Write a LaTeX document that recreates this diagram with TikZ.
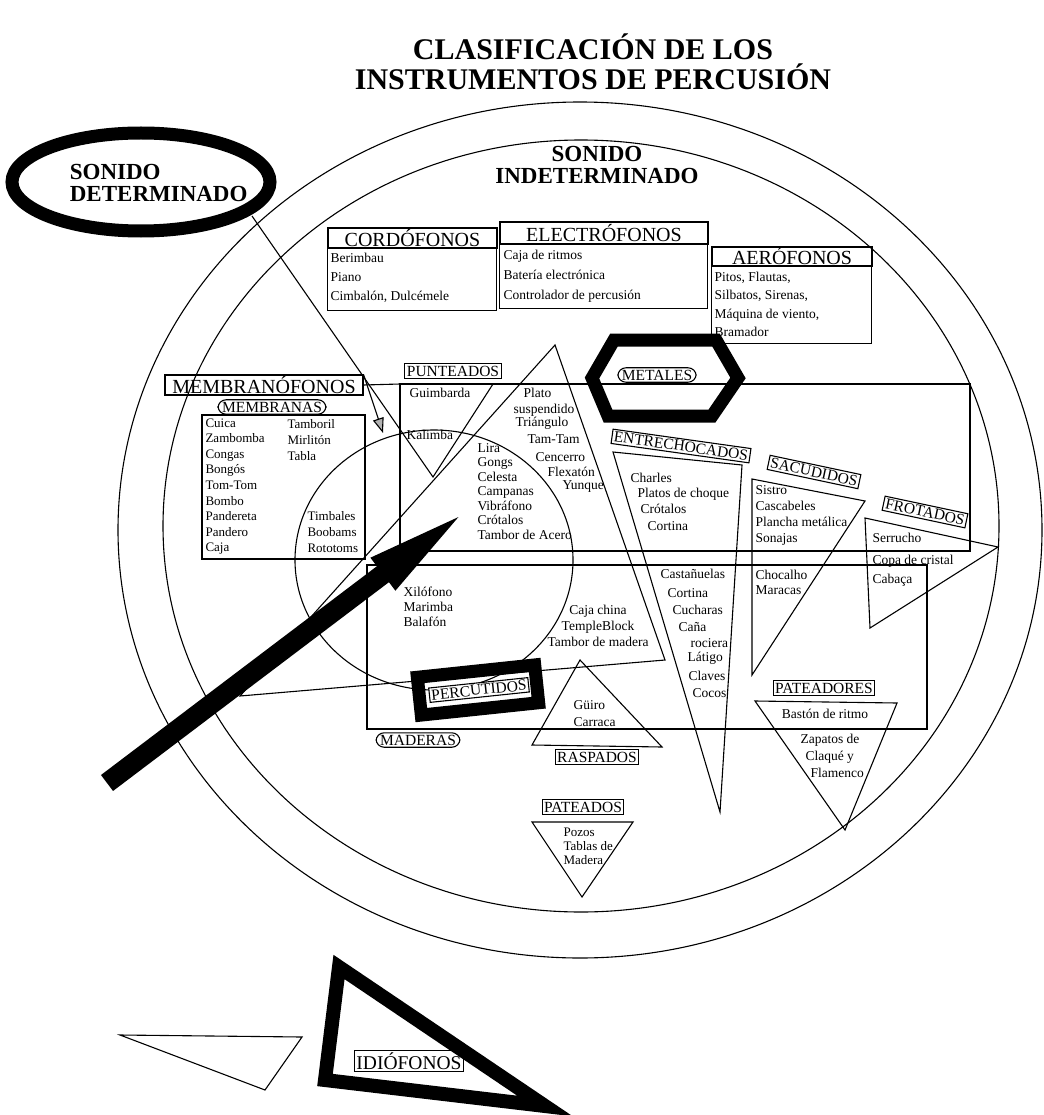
\documentclass[tikz,border=0pt]{standalone}
\usepackage{fontspec}
\setmainfont{Liberation Serif}
\usetikzlibrary{arrows.meta,positioning,shapes.geometric,calc}

\newcommand{\fsz}[2]{\fontsize{#1}{#2}\selectfont}

\tikzset{
  linea/.style={line width=1.1pt},
  grueso/.style={line width=13pt, line join=miter},
  lista/.style={font=\fsz{13.5}{19}, inner sep=0pt, align=left, anchor=west},
  cabecera/.style={draw, line width=1.1pt, font=\fsz{20}{22}, inner sep=0pt},
  etiqueta/.style={draw, line width=1.1pt, font=\fsz{15.5}{17}, inner sep=2pt},
  ovalo/.style={etiqueta, rounded corners=8pt, inner xsep=4pt},
  titulo/.style={font=\bfseries\fsz{30}{30}, align=center},
  sonido/.style={font=\bfseries\fsz{23}{22}, align=left},
}

\begin{document}
\begin{tikzpicture}[x=1pt, y=-1pt, linea]
\useasboundingbox (0,0) rectangle (1043,1115);
\clip (0,0) rectangle (1043,1115);
\fill[white] (0,0) rectangle (1043,1115);

% titulo
\node[titulo] (tit) at (593,62) {CLASIFICACIÓN DE LOS\\INSTRUMENTOS DE PERCUSIÓN};

% circulos grandes y circulo de percutidos
\draw (580,530) ellipse [x radius=462pt, y radius=428pt];
\draw (581,526) ellipse [x radius=418pt, y radius=386pt];
\draw (434,560) ellipse [x radius=139pt, y radius=130pt];

% sonido determinado / indeterminado
\node[sonido, anchor=west] (det) at (66,183) {SONIDO\\DETERMINADO};
\draw[grueso] (141,182) ellipse [x radius=129pt, y radius=49pt];
\node[sonido, align=center] (indet) at (597,165) {SONIDO\\INDETERMINADO};

% cordofonos, electrofonos, aerofonos
\node[cabecera, minimum width=169, minimum height=20] (cord) at (412.5,238) {CORDÓFONOS};
\draw (cord.south west) rectangle ++(169,62);
\node[lista] (cordl) at (330,278) {Berimbau\\Piano\\Cimbalón, Dulcémele};

\node[cabecera, minimum width=208, minimum height=22] (elec) at (604,233) {ELECTRÓFONOS};
\draw (elec.south west) rectangle ++(208,64);
\node[lista, font=\fsz{13.5}{20}] (elecl) at (503,276.5) {Caja de ritmos\\Batería electrónica\\Controlador de percusión};

\node[cabecera, minimum width=160, minimum height=19] (aero) at (792,256.5) {AERÓFONOS};
\draw (aero.south west) rectangle ++(160,77);
\node[lista, font=\fsz{13.5}{18.3}] (aerol) at (714,304.5) {Pitos, Flautas,\\Silbatos, Sirenas,\\Máquina de viento,\\Bramador};

% membranofonos
\node[cabecera, minimum width=198, minimum height=20] (memb) at (264,385) {MEMBRANÓFONOS};
\node[ovalo] (membr) at (272,407) {MEMBRANAS};
\draw (202,415) rectangle (365,559);
\node[lista, font=\fsz{13}{15.6}] (ml1) at (205,486.5) {Cuica\\Zambomba\\Congas\\Bongós\\Tom-Tom\\Bombo\\Pandereta\\Pandero\\Caja};
\node[lista, font=\fsz{13}{15.6}] (ml2) at (287,440) {Tamboril\\Mirlitón\\Tabla};
\node[lista, font=\fsz{13}{15.6}] (ml3) at (307,532) {Timbales\\Boobams\\Rototoms};
\coordinate (pct) at (383,433);
\draw[-{Triangle[length=15pt, width=11pt, fill=gray!60]}] (memb.north east) -- (pct);

% rectangulo de metales y de maderas
\coordinate (rA1) at (400,384);
\coordinate (rA2) at (970,551);
\draw (rA1) rectangle (rA2);
\draw (memb.east) -- (rA1);
\coordinate (rB1) at (367,565);
\coordinate (rB2) at (927,729);
\draw (rB1) rectangle (rB2);

% punteados
\node[etiqueta] (punt) at (453,371) {PUNTEADOS};
\coordinate (vd) at (252,216);
\coordinate (vk) at (433,477);
\draw (vd) -- (vk) -- (493,384);
\node[lista] (guim) at (409,393) {Guimbarda};
\node[lista] (kali) at (406,435) {Kalimba};

% triangulo grande
\draw (240,696) -- (555,345) -- (665,660) -- cycle;
\node[lista] (m1) at (523,393) {Plato};
\node[lista] (m2) at (513,410) {suspendido};
\node[lista] (m3) at (515,423) {Triángulo};
\node[lista] (m4) at (527,439) {Tam-Tam};
\node[lista] (m5) at (535,457) {Cencerro};
\node[lista] (m6) at (547,472) {Flexatón};
\node[lista] (m7) at (562,487) {Yunque};
\node[lista, font=\fsz{13.5}{14.5}] (lira) at (477,491.5) {Lira\\Gongs\\Celesta\\Campanas\\Vibráfono\\Crótalos\\Tambor de Acero};
\node[lista, font=\fsz{13.5}{15}] (xilo) at (403,607) {Xilófono\\Marimba\\Balafón};
\node[lista, font=\fsz{13.5}{16}, align=center, anchor=center] (caja) at (598,626) {Caja china\\TempleBlock\\Tambor de madera};

% metales
\draw[grueso] (592,378) -- (614,340) -- (716,340) -- (738,378) -- (712,416) -- (608,416) -- cycle;
\node[ovalo] (met) at (657,375) {METALES};

% entrechocados
\draw (613,452) -- (742,465) -- (720,812) -- cycle;
\node[etiqueta, fill=white, rotate=-8] (entre) at (681,446) {ENTRECHOCADOS};
\node[lista] (e1) at (630,478) {Charles};
\node[lista] (e2) at (637,494) {Platos de choque};
\node[lista] (e3) at (640,509) {Crótalos};
\node[lista] (e4) at (647,526) {Cortina};
\node[lista] (e5) at (660,574) {Castañuelas};
\node[lista] (e6) at (667,593) {Cortina};
\node[lista] (e7) at (672,610) {Cucharas};
\node[lista] (e8) at (678,627) {Caña};
\node[lista] (e9) at (690,643) {rociera};
\node[lista] (e10) at (687,658) {Látigo};
\node[lista] (e11) at (688,676) {Claves};
\node[lista] (e12) at (692,693) {Cocos};

% sacudidos
\draw (752,479) -- (865,501) -- (752,675) -- cycle;
\node[etiqueta, fill=white, rotate=-12] (sacu) at (814,472) {SACUDIDOS};
\node[lista, font=\fsz{13.5}{16}] (s1) at (755,515) {Sistro\\Cascabeles\\Plancha metálica\\Sonajas};
\node[lista, font=\fsz{13.5}{15}] (s2) at (755,582.5) {Chocalho\\Maracas};

% frotados
\draw (865,518) -- (998,547) -- (870,628) -- cycle;
\node[etiqueta, fill=white, rotate=-12] (frot) at (925,512) {FROTADOS};
\node[lista] (f1) at (872,538) {Serrucho};
\node[lista] (f2) at (872,561) {Copa de cristal};
\node[lista] (f3) at (872,580) {Cabaça};

% pateadores
\draw (755,701) -- (897,703) -- (845,830) -- cycle;
\node[etiqueta] (patr) at (824,688) {PATEADORES};
\node[lista, anchor=center] (p1) at (825,714) {Bastón de ritmo};
\node[lista] (p2) at (800,740) {Zapatos de};
\node[lista] (p3) at (805,757) {Claqué y};
\node[lista] (p4) at (810,773) {Flamenco};

% raspados
\draw (580,660) -- (532,745) -- (662,747) -- cycle;
\node[etiqueta] (rasp) at (597,757) {RASPADOS};
\node[lista, font=\fsz{13.5}{17}] (r1) at (573,713.5) {Güiro\\Carraca};

% pateados
\draw (532,822) -- (633,822) -- (582,897) -- cycle;
\node[etiqueta] (pats) at (583,807) {PATEADOS};
\node[lista, font=\fsz{13}{14}] (q1) at (563,846) {Pozos\\Tablas de\\Madera};

% maderas y percutidos
\node[ovalo] (mad) at (418,740) {MADERAS};
\draw[grueso, rotate around={6:(478,690)}] (419,671) rectangle (537,709);
\node[etiqueta, fill=white, rotate=6] (perc) at (479,690) {PERCUTIDOS};

% flecha grande
\draw[line width=20pt, -{Triangle[length=118pt, width=34pt]}] (107,783) -- (477,503);

% idiofonos
\draw (120,1035) -- (302,1037) -- (265,1090) -- cycle;
\node[etiqueta, font=\fsz{19.5}{20}] (idio) at (409,1061) {IDIÓFONOS};
\draw[line width=14pt, line join=miter] (339,967) -- (325,1080) -- (545,1106) -- cycle;

\end{tikzpicture}
\end{document}
